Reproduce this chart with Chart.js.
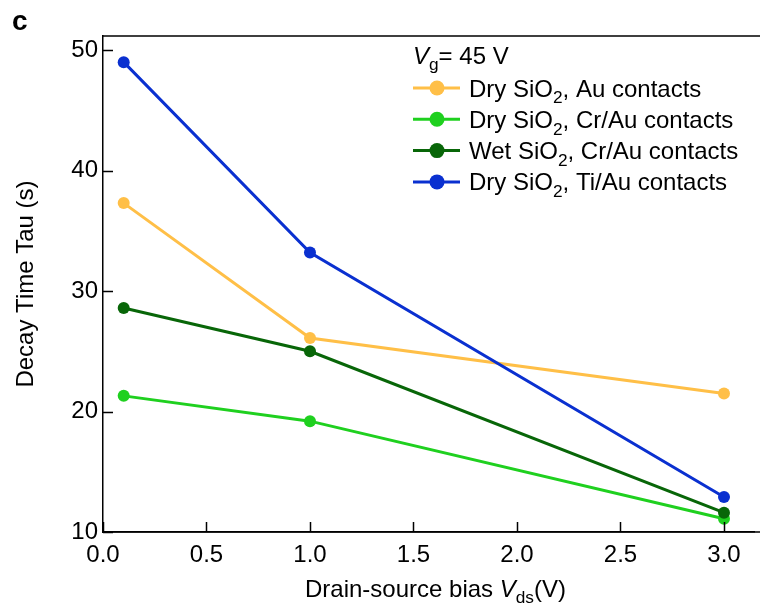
<!DOCTYPE html>
<html>
<head>
<meta charset="utf-8">
<script src="https://cdn.jsdelivr.net/npm/chart.js@4.4.1/dist/chart.umd.min.js"></script>
<style>
  html, body { margin: 0; padding: 0; background: #fff; }
  #wrap { width: 760px; height: 603px; position: relative; }
</style>
</head>
<body>
<div id="wrap"><canvas id="chart" width="760" height="603"></canvas></div>
<script>
/* datos del grafico */
const biasValues = [0.1, 1.0, 3.0];
const dryAu = [37.3, 26.1, 21.5];
const dryCrAu = [21.3, 19.2, 11.1];
const wetCrAu = [28.6, 25.0, 11.6];
const dryTiAu = [49.0, 33.2, 12.9];
const seriesNames = ['Dry SiO|2|, Au contacts', 'Dry SiO|2|, Cr/Au contacts', 'Wet SiO|2|, Cr/Au contacts', 'Dry SiO|2|, Ti/Au contacts'];
const xTicks = [0.0, 0.5, 1.0, 1.5, 2.0, 2.5, 3.0];
const yTicks = [10, 20, 30, 40, 50];

const colores = ['#ffbf47', '#1fd01f', '#086608', '#0a30d0'];
const FONT = '"Liberation Sans", Arial, sans-serif';
const SIZE = 24;

function puntos(vals) {
    return vals.map((v, i) => ({ x: biasValues[i], y: v }));
}

const allSeries = [dryAu, dryCrAu, wetCrAu, dryTiAu];
const datasets = allSeries.map((vals, i) => ({
    label: seriesNames[i].replace(/\|/g, ''),
    data: puntos(vals),
    borderColor: colores[i],
    backgroundColor: colores[i],
    borderWidth: 3,
    pointRadius: 6,
    pointHoverRadius: 6,
    pointBorderWidth: 0,
    order: 3 - i
}));

/* dibuja texto con subindices marcados con |..| */
function textoSub(ctx, str, x, y, size) {
    const parts = str.split('|');
    let cx = x;
    parts.forEach((p, i) => {
        if (i % 2 === 1) {
            ctx.font = (size * 0.72) + 'px ' + FONT;
            ctx.fillText(p, cx, y + size * 0.28);
        } else {
            ctx.font = size + 'px ' + FONT;
            ctx.fillText(p, cx, y);
        }
        cx += ctx.measureText(p).width;
    });
    return cx;
}

const extras = {
    id: 'extras',
    afterDraw(chart) {
        const ctx = chart.ctx;
        const a = chart.chartArea;
        const xs = chart.scales.x, ys = chart.scales.y;
        ctx.save();
        ctx.strokeStyle = '#000';
        ctx.lineWidth = 1.5;
        // linea superior y prolongacion de la inferior
        ctx.beginPath();
        ctx.moveTo(a.left, a.top);
        ctx.lineTo(760, a.top);
        ctx.moveTo(a.left, a.bottom);
        ctx.lineTo(760, a.bottom);
        ctx.stroke();
        // ticks hacia adentro
        ctx.beginPath();
        yTicks.forEach(t => {
            const py = Math.round(ys.getPixelForValue(t)) + 0.5;
            ctx.moveTo(a.left, py);
            ctx.lineTo(a.left + 10, py);
        });
        xTicks.forEach(t => {
            const px = Math.round(xs.getPixelForValue(t)) + 0.5;
            ctx.moveTo(px, a.bottom);
            ctx.lineTo(px, a.bottom - 10);
        });
        ctx.stroke();

        ctx.fillStyle = '#000';
        ctx.textBaseline = 'alphabetic';
        ctx.textAlign = 'left';
        // letra del panel
        ctx.font = 'bold 28px ' + FONT;
        ctx.fillText('c', 12, 30);

        // titulo eje x
        const size = SIZE;
        ctx.font = size + 'px ' + FONT;
        const p1 = 'Drain-source bias ';
        const w1 = ctx.measureText(p1).width;
        ctx.font = 'italic ' + size + 'px ' + FONT;
        const wV = ctx.measureText('V').width;
        ctx.font = (size * 0.72) + 'px ' + FONT;
        const wds = ctx.measureText('ds').width;
        let cx = 305;
        const by = 597;
        ctx.font = size + 'px ' + FONT;
        ctx.fillText(p1, cx, by); cx += w1;
        ctx.font = 'italic ' + size + 'px ' + FONT;
        ctx.fillText('V', cx, by); cx += wV;
        ctx.font = (size * 0.72) + 'px ' + FONT;
        ctx.fillText('ds', cx, by + 6); cx += wds;
        ctx.font = size + 'px ' + FONT;
        ctx.fillText('(V)', cx, by);

        // titulo eje y
        ctx.save();
        ctx.translate(33, (a.top + a.bottom) / 2);
        ctx.rotate(-Math.PI / 2);
        ctx.textAlign = 'center';
        ctx.font = size + 'px ' + FONT;
        ctx.fillText('Decay Time Tau (s)', 0, 0);
        ctx.restore();

        // leyenda
        ctx.textAlign = 'left';
        let lx = 413;
        ctx.font = 'italic ' + size + 'px ' + FONT;
        ctx.fillText('V', lx, 64);
        let vx = lx + ctx.measureText('V').width;
        ctx.font = (size * 0.72) + 'px ' + FONT;
        ctx.fillText('g', vx, 70);
        vx += ctx.measureText('g').width;
        ctx.font = size + 'px ' + FONT;
        ctx.fillText('= 45 V', vx, 64);
        seriesNames.forEach((name, i) => {
            const ry = 88 + i * 31.3;
            ctx.strokeStyle = colores[i];
            ctx.lineWidth = 3;
            ctx.beginPath();
            ctx.moveTo(413, ry);
            ctx.lineTo(460, ry);
            ctx.stroke();
            ctx.fillStyle = colores[i];
            ctx.beginPath();
            ctx.arc(437, ry, 7.5, 0, Math.PI * 2);
            ctx.fill();
            ctx.fillStyle = '#000';
            textoSub(ctx, name, 469, ry + 8.5, size);
        });
        ctx.restore();
    }
};

const chart = new Chart(document.getElementById('chart'), {
    type: 'line',
    data: { datasets: datasets },
    options: {
        responsive: false,
        animation: false,
        layout: { padding: { top: 36, right: 0, left: 0, bottom: 0 } },
        plugins: { legend: { display: false }, tooltip: { enabled: false } },
        scales: {
            x: {
                type: 'linear',
                min: 0,
                max: 3.145,
                afterFit: s => { s.height = 71; },
                afterBuildTicks: s => { s.ticks = xTicks.map(v => ({ value: v })); },
                ticks: {
                    color: '#000',
                    font: { family: FONT, size: SIZE },
                    padding: 9,
                    maxRotation: 0,
                    callback: v => v.toFixed(1)
                },
                grid: { display: false, drawTicks: false },
                border: { color: '#000', width: 1.5 }
            },
            y: {
                min: 10,
                max: 51.17,
                afterFit: s => { s.width = 103; },
                afterBuildTicks: s => { s.ticks = yTicks.map(v => ({ value: v })); },
                ticks: {
                    color: '#000',
                    font: { family: FONT, size: SIZE },
                    padding: 5
                },
                grid: { display: false, drawTicks: false },
                border: { color: '#000', width: 1.5 }
            }
        }
    },
    plugins: [extras]
});
</script>
</body>
</html>
